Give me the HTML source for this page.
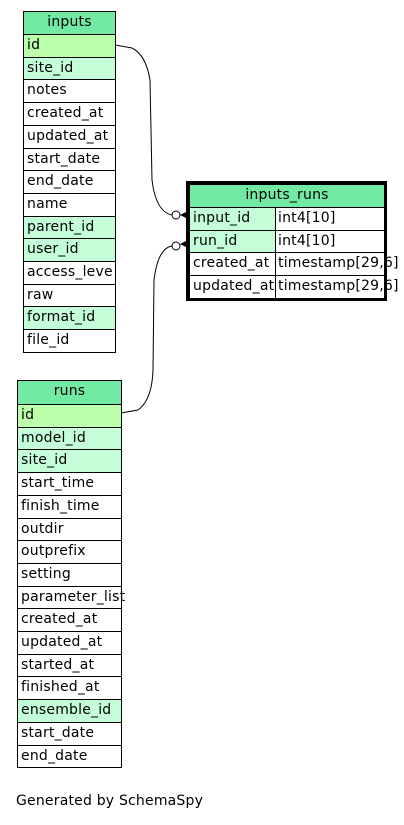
<!DOCTYPE html>
<html><head><style>
body{margin:0;width:404px;height:825px;background:#fff;position:relative;font-family:"DejaVu Sans","Liberation Sans",sans-serif;font-size:14px;letter-spacing:0.2px;color:#000;overflow:hidden}
.c{position:absolute;box-sizing:border-box;border:1px solid #000;padding-left:3px;line-height:20px;white-space:nowrap;overflow:hidden;background:#fff}
.v{overflow:visible;background:transparent}
.h{background:#72eaa4;text-align:center;padding-left:0}
.p{background:#bcffaa}
.f{background:#c4fed8}
</style></head><body>
<svg style="position:absolute;left:0;top:0" width="404" height="825">
<path d="M115,45 L132,48 Q146,55 150,80 L152,180 Q156,212 172,215" fill="none" stroke="#000" stroke-width="1"/>
<path d="M121,413 L138,410 Q152,400 153,370 L154,280 Q158,248 172,246" fill="none" stroke="#000" stroke-width="1"/>
<circle cx="176" cy="215" r="4" fill="#fff" stroke="#000"/>
<circle cx="176" cy="246" r="4" fill="#fff" stroke="#000"/>
<polygon points="180,215 188,211 188,219" fill="#000"/>
<polygon points="180,244 188,240 188,248" fill="#000"/>
</svg>
<div id="t"></div>
<div style="position:absolute;left:16px;top:793px">Generated by SchemaSpy</div>
<script>
function tbl(x,y,w,hh,rh,name,rows){
 let s='<div class="c h" style="left:'+x+'px;top:'+y+'px;width:'+w+'px;height:'+(hh+1)+'px">'+name+'</div>';
 rows.forEach((r,i)=>{
  let t=Math.round(y+hh+rh*i), b=Math.round(y+hh+rh*(i+1));
  s+='<div class="c '+r[1]+'" style="left:'+x+'px;top:'+t+'px;width:'+w+'px;height:'+(b-t+1)+'px;'+(r[2]?'overflow:visible;':'')+'">'+r[0]+'</div>';
 });
 return s;
}
let h='';
h+=tbl(23,11,93,23,22.7,'inputs',[['id','p'],['site_id','f'],['notes',''],['created_at',''],['updated_at',''],['start_date',''],['end_date',''],['name',''],['parent_id','f'],['user_id','f'],['access_leve',''],['raw',''],['format_id','f'],['file_id','']]);
h+=tbl(17,380,105,24,22.7,'runs',[['id','p'],['model_id','f'],['site_id','f'],['start_time',''],['finish_time',''],['outdir',''],['outprefix',''],['setting',''],['parameter_list','',1],['created_at',''],['updated_at',''],['started_at',''],['finished_at',''],['ensemble_id','f'],['start_date',''],['end_date','']]);
h+='<div class="c h" style="left:189px;top:184px;width:196px;height:24px">inputs_runs</div>';
let rr=[['input_id','int4[10]','f'],['run_id','int4[10]','f'],['created_at','timestamp[29,6]',''],['updated_at','timestamp[29,6]','']];
rr.forEach((r,i)=>{let t=Math.round(207+22.7*i), b=Math.round(207+22.7*(i+1));
 h+='<div class="c" style="left:275px;top:'+t+'px;width:110px;height:'+(b-t+1)+'px"></div>';
 h+='<div class="c v" style="left:275px;top:'+t+'px;width:110px;height:'+(b-t+1)+'px;border-color:transparent;padding-left:2px">'+r[1]+'</div>';
 h+='<div class="c '+r[2]+'" style="left:189px;top:'+t+'px;width:87px;height:'+(b-t+1)+'px">'+r[0]+'</div>';});
h+='<div style="position:absolute;left:186px;top:181px;width:201px;height:120px;box-sizing:border-box;border:3px solid #000"></div>';
document.getElementById('t').innerHTML=h;
</script>
</body></html>
